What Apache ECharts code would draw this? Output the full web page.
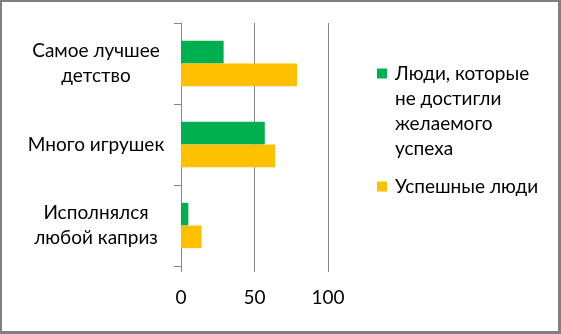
<!DOCTYPE html>
<html>
<head>
<meta charset="utf-8">
<script src="https://cdn.jsdelivr.net/npm/echarts@6/dist/echarts.min.js"></script>
<style>
  html, body { margin: 0; padding: 0; background: #fff; }
  #wrap { position: relative; width: 561px; height: 334px; }
  #chart { position: absolute; left: 0; top: 0; width: 561px; height: 334px; }
  #frame {
    position: absolute; left: 0; top: 0; width: 561px; height: 334px;
    box-sizing: border-box; pointer-events: none;
    border-style: solid; border-color: #808080;
    border-width: 2px 3px 3px 2px;
  }
</style>
</head>
<body>
<div id="wrap">
  <div id="chart"></div>
  <div id="frame"></div>
</div>
<script>
// Categories (top to bottom)
const categories = ['Самое лучшее\nдетство', 'Много игрушек', 'Исполнялся\nлюбой каприз'];
// Series
const seriesNames = ['Люди, которые\nне достигли\nжелаемого\nуспеха', 'Успешные люди'];
const unsuccessful = [29, 57, 5];
const successful = [79, 64, 14];
const seriesColors = ['#00B050', '#FFC000'];
// Value axis
const axisMin = 0;
const axisMax = 100;
const axisStep = 50;

const FONT = 'Lato';
const FONT_SIZE = 19;
const textColor = '#000000';
const lineColor = '#868686';

// Legend icon: square sitting beside the first text line of a tall item
const iconTop4 = 'path://M0,0L0,0M13,100L13,100M0,7.5L10,7.5L10,17.5L0,17.5Z';
const iconTop1 = 'path://M0,0L0,0M13,25L13,25M0,7.5L10,7.5L10,17.5L0,17.5Z';

const legendText = { fontFamily: FONT, fontSize: FONT_SIZE, color: textColor, lineHeight: 25 };

const chart = echarts.init(document.getElementById('chart'), null, { renderer: 'canvas' });
chart.setOption({
  animation: false,
  backgroundColor: '#ffffff',
  textStyle: { fontFamily: FONT },
  grid: { left: 181, right: 233, top: 23, bottom: 68, containLabel: false },
  legend: [
    {
      data: [{ name: seriesNames[0], icon: iconTop4 }],
      left: 377, top: 61, orient: 'vertical', padding: 0,
      itemWidth: 13, itemHeight: 100, itemGap: 0,
      textStyle: legendText,
      selectedMode: false
    },
    {
      data: [{ name: seriesNames[1], icon: iconTop1 }],
      left: 377, top: 174, orient: 'vertical', padding: 0,
      itemWidth: 13, itemHeight: 25, itemGap: 0,
      textStyle: legendText,
      selectedMode: false
    }
  ],
  xAxis: {
    type: 'value',
    min: axisMin, max: axisMax, interval: axisStep,
    axisLine: { show: false },
    axisTick: { show: true, length: 6, lineStyle: { color: lineColor, width: 1 } },
    splitLine: { show: true, lineStyle: { color: lineColor, width: 1 } },
    axisLabel: { color: textColor, fontFamily: FONT, fontSize: FONT_SIZE, margin: 22 }
  },
  yAxis: {
    type: 'category',
    inverse: true,
    data: categories,
    axisLine: { show: true, lineStyle: { color: lineColor, width: 1 } },
    axisTick: { show: true, length: 7, lineStyle: { color: lineColor, width: 1 } },
    axisLabel: {
      color: textColor, fontFamily: FONT, fontSize: FONT_SIZE, lineHeight: 25,
      align: 'center', margin: 85
    }
  },
  series: [
    {
      name: seriesNames[0], type: 'bar', data: unsuccessful,
      itemStyle: { color: seriesColors[0] },
      barGap: '0%', barCategoryGap: '44%'
    },
    {
      name: seriesNames[1], type: 'bar', data: successful,
      itemStyle: { color: seriesColors[1] },
      barGap: '0%', barCategoryGap: '44%'
    }
  ]
});
</script>
</body>
</html>
